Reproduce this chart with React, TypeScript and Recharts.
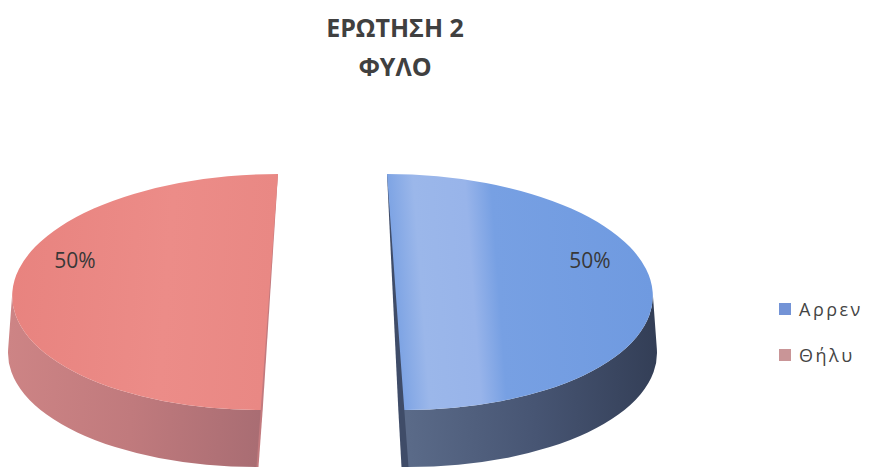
import { PieChart, Pie, Cell, Legend } from 'recharts'

const categories = ['Αρρεν', 'Θήλυ']
const values = [50, 50]
const titleLines = ['ΕΡΩΤΗΣΗ 2', 'ΦΥΛΟ']

const legendColors = ['#7393d6', '#c99597']
const baseColors = ['#6f9ae0', '#e98884']

const data = categories.map((name, i) => ({ name, value: values[i] }))

const RATIO = 0.459
const DEPTH = 57
const EXPLODE = 54.5
const SKEW = 4.2
const RAD = Math.PI / 180
const FONT = '"Open Sans", "Noto Sans", sans-serif'

function Slice3D(props: any) {
  const { cx, cy, outerRadius, startAngle, endAngle, midAngle } = props
  const name = props.payload?.name ?? props.name
  const idx = Math.max(0, categories.indexOf(name))
  const rx = outerRadius
  const ry = outerRadius * RATIO
  const dir = Math.cos(midAngle * RAD) >= 0 ? 1 : -1
  const ox = cx + Math.cos(midAngle * RAD) * EXPLODE
  const oy = cy - Math.sin(midAngle * RAD) * EXPLODE * RATIO
  const pt = (a: number, dy = 0) =>
    `${ox + rx * Math.cos(a * RAD)},${oy - ry * Math.sin(a * RAD) + dy}`
  const hi = Math.max(startAngle, endAngle)
  const lo = Math.min(startAngle, endAngle)
  const large = hi - lo > 180 ? 1 : 0
  const top = `M${ox},${oy} L${pt(hi)} A${rx},${ry} 0 ${large} 1 ${pt(lo)} Z`

  const sides: string[] = []
  for (const k of [-1, 0, 1]) {
    const a = Math.max(lo, -180 + 360 * k)
    const b = Math.min(hi, 360 * k)
    if (b > a) {
      sides.push(
        `M${pt(b)} A${rx},${ry} 0 0 1 ${pt(a)} L${pt(a, DEPTH)} A${rx},${ry} 0 0 0 ${pt(b, DEPTH)} Z`
      )
    }
  }

  // narrow cut face along the flat edge (visible on the right-hand slice)
  const y0 = oy - ry
  const cut =
    dir > 0
      ? `M${ox},${y0} L${ox + 1},${y0} L${ox + 1},${oy + ry + DEPTH} L${ox - 7},${oy + ry + DEPTH} L${ox - 6},${oy + ry} Z`
      : `M${ox},${y0} L${ox - 1},${y0} L${ox - 1},${oy + ry + DEPTH} L${ox + 2},${oy + ry + DEPTH} L${ox + 2},${oy + ry} Z`

  return (
    <g transform={`translate(0 ${y0}) skewX(${dir * SKEW}) translate(0 ${-y0})`}>
      <path d={cut} fill={dir > 0 ? '#3f4c68' : '#c27a7e'} />
      {sides.map((d, i) => (
        <path key={i} d={d} fill={`url(#side${idx})`} />
      ))}
      <path d={top} fill={`url(#top${idx})`} />
    </g>
  )
}

function renderLabel(props: any) {
  const { cx, cy, midAngle, outerRadius, percent } = props
  const x = cx + Math.cos(midAngle * RAD) * (EXPLODE + 0.79 * outerRadius)
  const y = cy - 0.27 * outerRadius * RATIO
  return (
    <text
      x={x}
      y={y}
      textAnchor="middle"
      dominantBaseline="central"
      fill="#383838"
      fontSize={21}
      fontFamily={FONT}
    >
      {`${Math.round(percent * 100)}%`}
    </text>
  )
}

function renderLegend() {
  return (
    <div style={{ fontFamily: FONT, fontSize: 18, color: '#444', letterSpacing: 2.5 }}>
      {categories.map((c, i) => (
        <div key={c} style={{ display: 'flex', alignItems: 'center', height: 46 }}>
          <span
            style={{
              display: 'inline-block',
              width: 12,
              height: 12,
              background: legendColors[i],
              marginRight: 8,
            }}
          />
          <span>{c}</span>
        </div>
      ))}
    </div>
  )
}

export default function App() {
  return (
    <div style={{ position: 'absolute', left: 0, top: 0, width: 869, height: 468, background: '#fff', overflow: 'hidden' }}>
      <div
        style={{
          position: 'absolute',
          left: 0,
          top: 8,
          width: 790,
          textAlign: 'center',
          fontFamily: FONT,
          fontWeight: 700,
          fontSize: 25,
          lineHeight: '39px',
          color: '#404040',
        }}
      >
        {titleLines.map((t) => (
          <div key={t}>{t}</div>
        ))}
      </div>
      <PieChart width={869} height={468} margin={{ top: 0, right: 0, bottom: 0, left: 0 }}>
        <defs>
          <linearGradient id="top0" gradientUnits="userSpaceOnUse" x1={387} y1={0} x2={645} y2={0}>
            <stop offset="0" stopColor="#7ea4e4" />
            <stop offset="0.1" stopColor="#9bb7ea" />
            <stop offset="0.3" stopColor="#98b4ea" />
            <stop offset="0.4" stopColor="#77a0e3" />
            <stop offset="1" stopColor={baseColors[0]} />
          </linearGradient>
          <linearGradient id="side0" gradientUnits="userSpaceOnUse" x1={390} y1={0} x2={645} y2={0}>
            <stop offset="0" stopColor="#5a6a88" />
            <stop offset="0.5" stopColor="#475573" />
            <stop offset="1" stopColor="#333e56" />
          </linearGradient>
          <linearGradient id="top1" gradientUnits="userSpaceOnUse" x1={20} y1={0} x2={278} y2={0}>
            <stop offset="0" stopColor="#e8837f" />
            <stop offset="0.6" stopColor="#ec8c88" />
            <stop offset="1" stopColor={baseColors[1]} />
          </linearGradient>
          <linearGradient id="side1" gradientUnits="userSpaceOnUse" x1={20} y1={0} x2={278} y2={0}>
            <stop offset="0" stopColor="#cd8485" />
            <stop offset="0.5" stopColor="#c07a7d" />
            <stop offset="1" stopColor="#a96d73" />
          </linearGradient>
        </defs>
        <Pie
          data={data}
          dataKey="value"
          nameKey="name"
          cx={332.5}
          cy={292}
          outerRadius={257}
          startAngle={90}
          endAngle={-270}
          stroke="none"
          label={renderLabel}
          labelLine={false}
          shape={Slice3D}
          activeShape={Slice3D}
          inactiveShape={Slice3D}
          isAnimationActive={false}
        >
          {data.map((d, i) => (
            <Cell key={d.name} fill={baseColors[i]} />
          ))}
        </Pie>
        <Legend
          layout="vertical"
          content={renderLegend}
          wrapperStyle={{ left: 779, top: 286, width: 90 }}
        />
      </PieChart>
    </div>
  )
}
